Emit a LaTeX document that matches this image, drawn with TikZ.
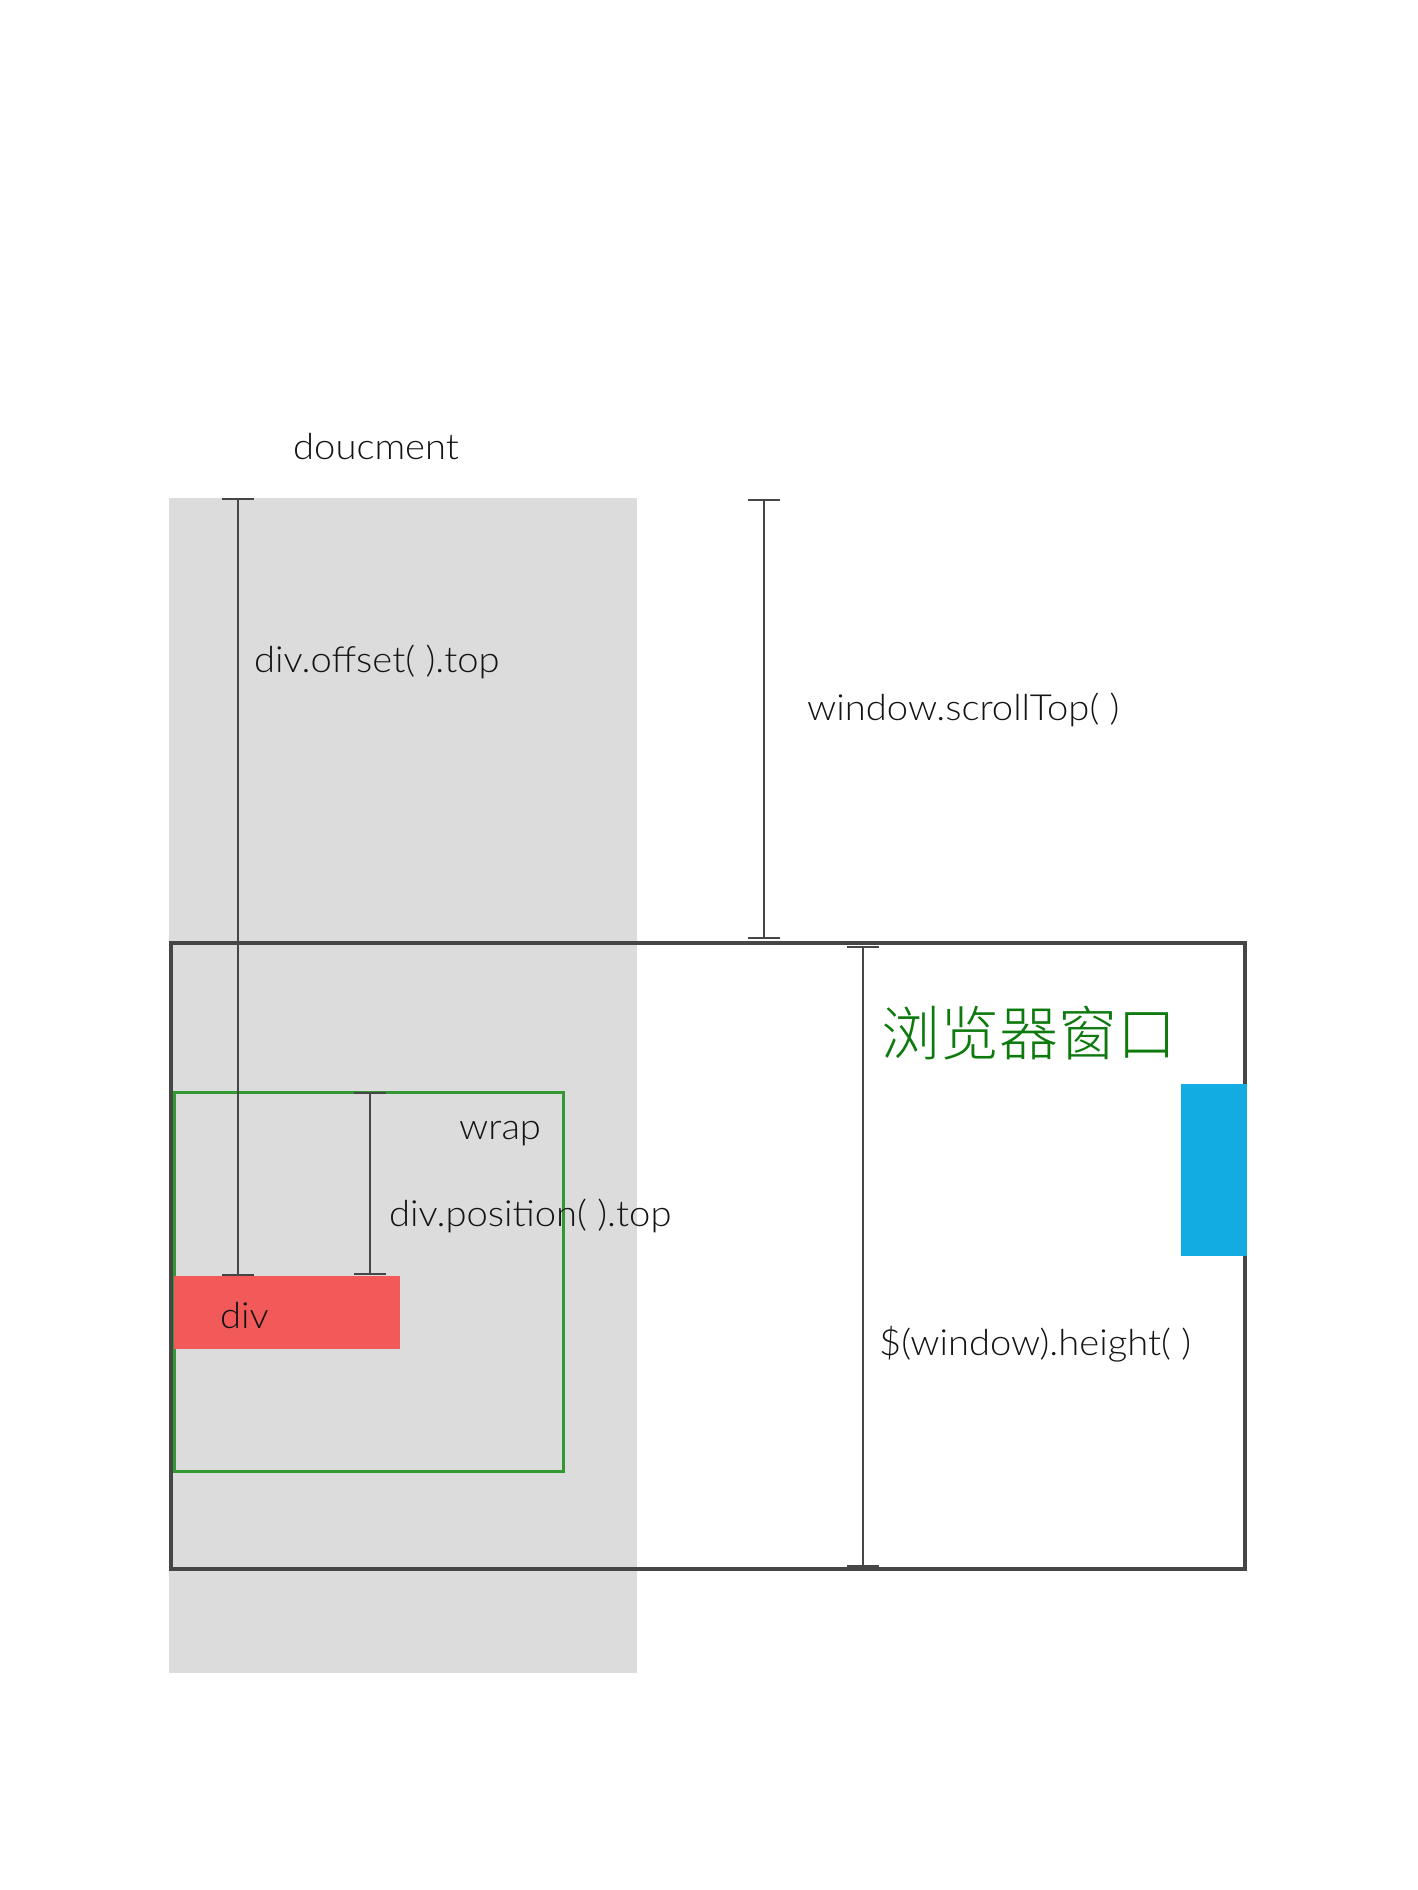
\documentclass[tikz,border=0pt]{standalone}
\usepackage{fontspec}
\setmainfont{Lato Light}[FakeStretch=1.06]
\newfontfamily\cjk{Noto Sans CJK SC Light}
\usetikzlibrary{arrows.meta,positioning}
\definecolor{docgray}{HTML}{DCDCDC}
\definecolor{linegray}{HTML}{464646}
\definecolor{wrapgreen}{HTML}{339933}
\definecolor{txtgreen}{HTML}{0E7A0E}
\definecolor{divred}{HTML}{F25A5A}
\definecolor{barblue}{HTML}{12ACE2}

\begin{document}
\begin{tikzpicture}[x=1pt,y=-1pt,
    dim/.style={draw=linegray,line width=2.4pt,
      {Bar[width=32pt,line width=2pt]}-{Bar[width=32pt,line width=2pt]}},
    lbl/.style={anchor=base west,inner sep=0pt,text=black!92,
      font=\fontsize{36}{42}\selectfont}]
 \useasboundingbox (0,0) rectangle (1417,1890);
 % document, window, wrap and div boxes
 \fill[docgray] (169,498) rectangle (637,1673);
 \draw[linegray,line width=4.2pt] (171,943) rectangle (1245,1569);
 \draw[wrapgreen,line width=3pt] (174,1092) rectangle (563,1471);
 \fill[divred] (174,1276) rectangle (400,1349);
 \fill[barblue] (1181,1084) rectangle (1247,1256);
 % measure ends
 \coordinate (offA) at (238,498);
 \coordinate (offB) at (238,1276);
 \coordinate (scrA) at (764,499);
 \coordinate (scrB) at (764,939);
 \coordinate (posA) at (370,1092);
 \coordinate (posB) at (370,1275);
 \coordinate (winA) at (863,946);
 \coordinate (winB) at (863,1567);
 \path[dim] foreach \M in {off,scr,pos,win} {(\M A) edge (\M B)};
 % labels
 \node[lbl] (doc) at (293,459) {doucment};
 \node[lbl] (offlbl) at (254,672) {div.offset( ).top};
 \node[lbl] (scrlbl) at (807,720) {window.scrollTop( )};
 \node[lbl] (wraplbl) at (459,1139) {wrap};
 \node[lbl] (poslbl) at (389,1226) {div.position( ).top};
 \node[lbl] (divlbl) at (220,1328) {div};
 \node[lbl] (winlbl) at (879,1355) {\$(window).height( )};
 \node[lbl,text=txtgreen,font=\cjk\fontsize{59}{62}\selectfont] (browser) at (881,1055) {浏览器窗口};
\end{tikzpicture}
\end{document}
